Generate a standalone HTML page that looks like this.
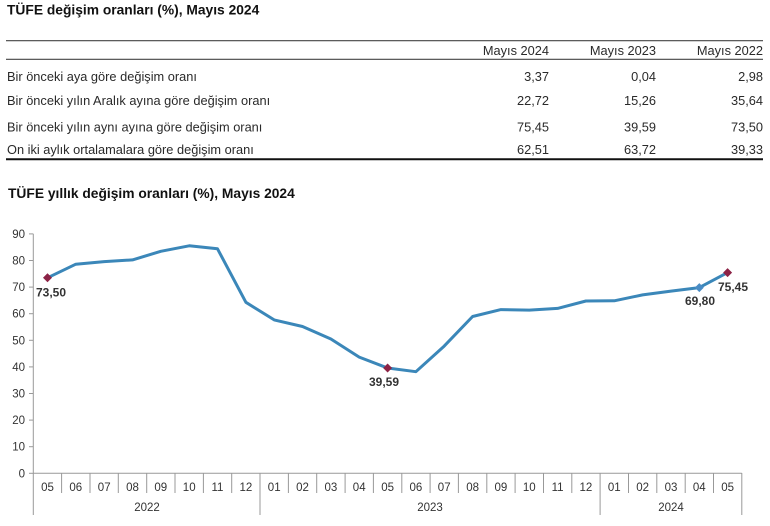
<!DOCTYPE html>
<html><head><meta charset="utf-8"><style>
html,body{margin:0;padding:0;background:#fff;}
svg{display:block;}
text{font-family:"Liberation Sans",Arial,sans-serif;}
</style></head><body>
<svg width="770" height="526" viewBox="0 0 770 526" xmlns="http://www.w3.org/2000/svg">
<!-- Table -->
<text x="7" y="14.5" font-size="13.8" font-weight="bold" fill="#111">TÜFE değişim oranları (%), Mayıs 2024</text>
<line x1="6" y1="40.7" x2="763" y2="40.7" stroke="#444" stroke-width="1.2"/>
<line x1="6" y1="59.3" x2="763" y2="59.3" stroke="#444" stroke-width="1.2"/>
<line x1="6" y1="159.3" x2="763" y2="159.3" stroke="#111" stroke-width="2"/>
<g font-size="12.8" fill="#2a2a2a">
<text x="549" y="55" text-anchor="end">Mayıs 2024</text>
<text x="656" y="55" text-anchor="end">Mayıs 2023</text>
<text x="763" y="55" text-anchor="end">Mayıs 2022</text>
<text x="7" y="80.8">Bir önceki aya göre değişim oranı</text>
<text x="7" y="105">Bir önceki yılın Aralık ayına göre değişim oranı</text>
<text x="7" y="131.5">Bir önceki yılın aynı ayına göre değişim oranı</text>
<text x="7" y="154">On iki aylık ortalamalara göre değişim oranı</text>
<text x="549" y="80.8" text-anchor="end">3,37</text>
<text x="656" y="80.8" text-anchor="end">0,04</text>
<text x="763" y="80.8" text-anchor="end">2,98</text>
<text x="549" y="105" text-anchor="end">22,72</text>
<text x="656" y="105" text-anchor="end">15,26</text>
<text x="763" y="105" text-anchor="end">35,64</text>
<text x="549" y="131.5" text-anchor="end">75,45</text>
<text x="656" y="131.5" text-anchor="end">39,59</text>
<text x="763" y="131.5" text-anchor="end">73,50</text>
<text x="549" y="154" text-anchor="end">62,51</text>
<text x="656" y="154" text-anchor="end">63,72</text>
<text x="763" y="154" text-anchor="end">39,33</text>
</g>
<!-- Chart title -->
<text x="8" y="198" font-size="13.8" font-weight="bold" fill="#111">TÜFE yıllık değişim oranları (%), Mayıs 2024</text>
<!-- Axes -->
<g stroke="#999" stroke-width="1" fill="none">
<line x1="33.3" y1="233.9" x2="33.3" y2="515"/>
<line x1="33.3" y1="473.3" x2="741.8" y2="473.3"/>
<line x1="29" y1="473.3" x2="33.3" y2="473.3"/>
<line x1="29" y1="446.7" x2="33.3" y2="446.7"/>
<line x1="29" y1="420.1" x2="33.3" y2="420.1"/>
<line x1="29" y1="393.5" x2="33.3" y2="393.5"/>
<line x1="29" y1="366.9" x2="33.3" y2="366.9"/>
<line x1="29" y1="340.3" x2="33.3" y2="340.3"/>
<line x1="29" y1="313.7" x2="33.3" y2="313.7"/>
<line x1="29" y1="287.1" x2="33.3" y2="287.1"/>
<line x1="29" y1="260.5" x2="33.3" y2="260.5"/>
<line x1="29" y1="233.9" x2="33.3" y2="233.9"/>
<path d="M61.6 473V493M90 473V493M118.3 473V493M146.7 473V493M175 473V493M203.4 473V493M231.7 473V493M288.4 473V493M316.7 473V493M345.1 473V493M373.4 473V493M401.8 473V493M430.1 473V493M458.4 473V493M486.8 473V493M515.1 473V493M543.5 473V493M571.8 473V493M628.5 473V493M656.8 473V493M685.2 473V493M713.5 473V493"/>
<path d="M260 473V515M600.1 473V515M741.8 473V515"/>
</g>
<g font-size="11.5" fill="#333" text-anchor="end">
<text x="25" y="477.3">0</text>
<text x="25" y="450.7">10</text>
<text x="25" y="424.1">20</text>
<text x="25" y="397.5">30</text>
<text x="25" y="370.9">40</text>
<text x="25" y="344.3">50</text>
<text x="25" y="317.7">60</text>
<text x="25" y="291.1">70</text>
<text x="25" y="264.5">80</text>
<text x="25" y="237.9">90</text>
</g>
<g font-size="11.5" fill="#333" text-anchor="middle">
<text x="47.5" y="491">05</text><text x="75.8" y="491">06</text><text x="104.2" y="491">07</text><text x="132.5" y="491">08</text><text x="160.8" y="491">09</text><text x="189.2" y="491">10</text><text x="217.5" y="491">11</text><text x="245.9" y="491">12</text>
<text x="274.2" y="491">01</text><text x="302.5" y="491">02</text><text x="330.9" y="491">03</text><text x="359.2" y="491">04</text><text x="387.6" y="491">05</text><text x="415.9" y="491">06</text><text x="444.2" y="491">07</text><text x="472.6" y="491">08</text><text x="500.9" y="491">09</text><text x="529.3" y="491">10</text><text x="557.6" y="491">11</text><text x="585.9" y="491">12</text>
<text x="614.3" y="491">01</text><text x="642.6" y="491">02</text><text x="671" y="491">03</text><text x="699.3" y="491">04</text><text x="727.6" y="491">05</text>
<text x="147" y="511">2022</text>
<text x="430" y="511">2023</text>
<text x="671" y="511">2024</text>
</g>
<!-- Series -->
<polyline fill="none" stroke="#3b87b9" stroke-width="3" stroke-linejoin="round" points="47.5,277.8 75.8,264.2 104.2,261.6 132.5,259.9 160.8,251.3 189.2,245.8 217.5,248.8 245.9,302.3 274.2,319.9 302.5,326.5 330.9,339.0 359.2,357.1 387.6,368.0 415.9,371.7 444.2,346.1 472.6,316.5 500.9,309.6 529.3,310.1 557.6,308.4 585.9,301.0 614.3,300.8 642.6,294.9 671.0,291.1 699.3,287.6 727.6,272.6"/>
<g fill="#8c2346">
<path d="M47.5 273.3L52 277.8L47.5 282.3L43 277.8Z"/>
<path d="M387.6 363.5L392.1 368L387.6 372.5L383.1 368Z"/>
<path d="M727.6 268.1L732.1 272.6L727.6 277.1L723.1 272.6Z"/>
</g>
<path fill="#4a8cc4" d="M699.3 283.1L703.8 287.6L699.3 292.1L694.8 287.6Z"/>
<g font-size="12" font-weight="bold" fill="#333" text-anchor="middle">
<text x="51" y="296.5">73,50</text>
<text x="384" y="386">39,59</text>
<text x="700" y="305">69,80</text>
<text x="733" y="291">75,45</text>
</g>
</svg>
</body></html>
